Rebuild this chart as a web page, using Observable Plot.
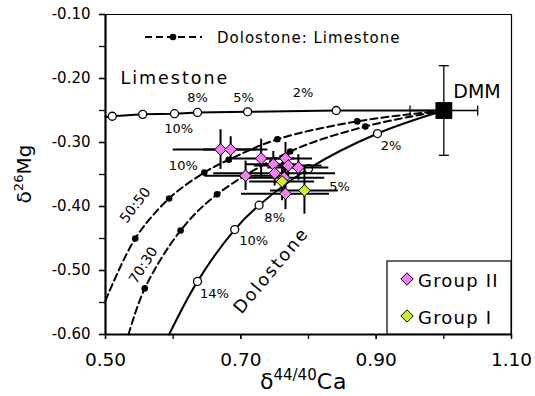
<!DOCTYPE html>
<html><head><meta charset="utf-8">
<script src="https://cdn.jsdelivr.net/npm/d3@7"></script>
<script src="https://cdn.jsdelivr.net/npm/@observablehq/plot@0.6"></script>
<style>
body{margin:0;background:#fff;}
#chart svg{font-family:"DejaVu Sans",sans-serif;}
</style></head><body><div id="chart"></div>
<script>
// ---------- data ----------
const xDomain = [0.5, 1.1];
const yDomain = [-0.6, -0.1];
const xTicksAll = [0.5, 0.6, 0.7, 0.8, 0.9, 1.0, 1.1];
const xTickLabels = [0.5, 0.7, 0.9, 1.1];
const yTicksAll = [-0.6, -0.55, -0.5, -0.45, -0.4, -0.35, -0.3, -0.25, -0.2, -0.15, -0.1];
const yTickLabels = [-0.6, -0.5, -0.4, -0.3, -0.2, -0.1];

// DMM end-member
const dmmX = [1.0], dmmY = [-0.25], dmmXerr = [0.05], dmmYerr = [0.07];

// Limestone mixing curve (open circles)
const limeX = [0.510, 0.555, 0.602, 0.636, 0.710, 0.841];
const limeY = [-0.259, -0.256, -0.255, -0.253, -0.252, -0.250];
const limeStart = [0.50, -0.260];

// Dolostone mixing curve (open circles)
const doloX = [0.636, 0.691, 0.727, 0.800, 0.902];
const doloY = [-0.517, -0.436, -0.398, -0.341, -0.286];
const doloStart = [0.594, -0.60];

// Dolostone:Limestone 50:50 (filled dots)
const mix50X = [0.544, 0.594, 0.646, 0.682, 0.754, 0.872];
const mix50Y = [-0.450, -0.3875, -0.347, -0.327, -0.295, -0.267];
const mix50Start = [0.50, -0.547];

// Dolostone:Limestone 70:30 (filled dots)
const mix70X = [0.558, 0.611, 0.665, 0.773, 0.884];
const mix70Y = [-0.528, -0.4375, -0.381, -0.314, -0.275];
const mix70Start = [0.534, -0.60];

// Group II samples
const g2X    = [0.670, 0.685, 0.730, 0.707, 0.748, 0.766, 0.770, 0.785, 0.750, 0.764, 0.766];
const g2Y    = [-0.311, -0.311, -0.325, -0.352, -0.334, -0.325, -0.336, -0.339, -0.348, -0.355, -0.380];
const g2Xerr = [0.070, 0.040, 0.050, 0.060, 0.040, 0.040, 0.050, 0.045, 0.090, 0.060, 0.065];
const g2Yerr = [0.031, 0.020, 0.030, 0.023, 0.020, 0.025, 0.020, 0.020, 0.020, 0.030, 0.025];
// Group I samples
const g1X    = [0.761, 0.794];
const g1Y    = [-0.361, -0.375];
const g1Xerr = [0.048, 0.050];
const g1Yerr = [0.030, 0.037];

// annotation labels (anchored in data units)
const pctLabels = ["8%", "5%", "2%", "10%", "2%", "5%", "8%", "10%", "14%", "10%"];
const pctX      = [0.636, 0.704, 0.792, 0.608, 0.922, 0.846, 0.750, 0.719, 0.661, 0.615];
const pctY      = [-0.230, -0.230, -0.222, -0.278, -0.305, -0.369, -0.417, -0.453, -0.536, -0.336];
const ratioLabels = ["50:50", "70:30"];
const ratioX = [0.544, 0.556];
const ratioY = [-0.398, -0.492];
const ratioAngle = [-52, -57];

const colors = {g2: "#f57ef2", g1: "#ccf028"};

// ---------- helpers ----------
const pts = (xs, ys) => xs.map((x, i) => ({x, y: ys[i]}));
const limeLine = [{x: limeStart[0], y: limeStart[1]}, ...pts(limeX, limeY), {x: dmmX[0], y: dmmY[0]}];
const doloLine = [{x: doloStart[0], y: doloStart[1]}, ...pts(doloX, doloY), {x: dmmX[0], y: dmmY[0]}];
const mix50Line = [{x: mix50Start[0], y: mix50Start[1]}, ...pts(mix50X, mix50Y), {x: dmmX[0], y: dmmY[0]}];
const mix70Line = [{x: mix70Start[0], y: mix70Start[1]}, ...pts(mix70X, mix70Y), {x: dmmX[0], y: dmmY[0]}];
const samples = [
  ...g2X.map((x, i) => ({x, y: g2Y[i], xe: g2Xerr[i], ye: g2Yerr[i], g: "II"})),
  ...g1X.map((x, i) => ({x, y: g1Y[i], xe: g1Xerr[i], ye: g1Yerr[i], g: "I"}))
];
const dmm = dmmX.map((x, i) => ({x, y: dmmY[i], xe: dmmXerr[i], ye: dmmYerr[i]}));
const pct = pctLabels.map((t, i) => ({t, x: pctX[i], y: pctY[i]}));
const ratios = ratioLabels.map((t, i) => ({t, x: ratioX[i], y: ratioY[i], a: ratioAngle[i]}));

const capH = {draw(ctx, size) { const r = Math.sqrt(size / Math.PI); ctx.moveTo(-r, 0); ctx.lineTo(r, 0); }};
const capV = {draw(ctx, size) { const r = Math.sqrt(size / Math.PI); ctx.moveTo(0, -r); ctx.lineTo(0, r); }};

const fmt = d => d.toFixed(2);

const plot = Plot.plot({
  width: 535, height: 396,
  marginLeft: 105, marginRight: 24, marginTop: 14, marginBottom: 62,
  x: {domain: xDomain, label: null},
  y: {domain: yDomain, label: null},
  style: {fontFamily: "DejaVu Sans", background: "white", color: "black"},
  marks: [
    Plot.ruleX([xDomain[1]], {stroke: "black", strokeWidth: 1.2}),
    Plot.ruleY([yDomain[1]], {stroke: "black", strokeWidth: 1.2}),
    Plot.axisX(xTicksAll, {tickSize: 5, text: null, strokeWidth: 1.3, label: null}),
    Plot.axisX(xTickLabels, {tickSize: 5, tickPadding: 13, tickFormat: fmt, fontSize: 18.5, strokeWidth: 1.3, label: null}),
    Plot.axisY(yTicksAll, {tickSize: 6, text: null, strokeWidth: 1.3, label: null}),
    Plot.axisY(yTickLabels, {tickSize: 6, tickPadding: 9, tickFormat: fmt, fontSize: 15, strokeWidth: 1.3, label: null}),
    Plot.ruleX([xDomain[0]], {strokeWidth: 2.2}),
    Plot.ruleY([yDomain[0]], {strokeWidth: 2.2}),

    // mixing curves
    Plot.line(limeLine, {x: "x", y: "y", stroke: "black", strokeWidth: 2}),
    Plot.line(doloLine, {x: "x", y: "y", stroke: "black", strokeWidth: 2, curve: "catmull-rom"}),
    Plot.line(mix50Line, {x: "x", y: "y", stroke: "black", strokeWidth: 2, strokeDasharray: "7,4", curve: "catmull-rom"}),
    Plot.line(mix70Line, {x: "x", y: "y", stroke: "black", strokeWidth: 2, strokeDasharray: "7,4", curve: "catmull-rom"}),

    // DMM error bars
    Plot.ruleY(dmm, {y: "y", x1: d => d.x - d.xe, x2: d => d.x + d.xe, strokeWidth: 1.3}),
    Plot.ruleX(dmm, {x: "x", y1: d => d.y - d.ye, y2: d => d.y + d.ye, strokeWidth: 1.3}),
    Plot.dot(dmm, {x: "x", y: d => d.y + d.ye, symbol: capH, r: 5, fill: "none", stroke: "black", strokeWidth: 1.3}),
    Plot.dot(dmm, {x: "x", y: d => d.y - d.ye, symbol: capH, r: 5, fill: "none", stroke: "black", strokeWidth: 1.3}),
    Plot.dot(dmm, {x: d => d.x - d.xe, y: "y", symbol: capV, r: 5, fill: "none", stroke: "black", strokeWidth: 1.3}),
    Plot.dot(dmm, {x: d => d.x + d.xe, y: "y", symbol: capV, r: 5, fill: "none", stroke: "black", strokeWidth: 1.3}),

    // markers on curves
    Plot.dot(pts(mix50X, mix50Y), {x: "x", y: "y", r: 3.3, fill: "black"}),
    Plot.dot(pts(mix70X, mix70Y), {x: "x", y: "y", r: 3.3, fill: "black"}),
    Plot.dot(pts(limeX, limeY), {x: "x", y: "y", r: 4, fill: "white", stroke: "black", strokeWidth: 1.3}),
    Plot.dot(pts(doloX, doloY), {x: "x", y: "y", r: 4, fill: "white", stroke: "black", strokeWidth: 1.3}),

    // sample error bars
    Plot.ruleY(samples, {y: "y", x1: d => d.x - d.xe, x2: d => d.x + d.xe, strokeWidth: 2}),
    Plot.ruleX(samples, {x: "x", y1: d => d.y - d.ye, y2: d => d.y + d.ye, strokeWidth: 2}),
    // sample points
    Plot.dot(samples, {x: "x", y: "y", symbol: "diamond2", r: 5.3, fill: d => d.g === "II" ? colors.g2 : colors.g1, stroke: "black", strokeWidth: 1}),

    // DMM square
    Plot.dot(dmm, {x: "x", y: "y", symbol: "square", r: 9.5, fill: "black"}),

    // labels
    Plot.text(pct, {x: "x", y: "y", text: "t", fontSize: 13}),
    Plot.text(ratios, {x: "x", y: "y", text: "t", rotate: "a", fontSize: 14}),
    Plot.text(["Limestone"], {x: 0.522, y: -0.209, text: d => d, textAnchor: "start", lineAnchor: "bottom", fontSize: 17.5}),
    Plot.text(["Dolostone"], {x: 0.745, y: -0.500, text: d => d, rotate: -50, fontSize: 17.5}),
    Plot.text(["DMM"], {x: 1.014, y: -0.2297, text: d => d, textAnchor: "start", lineAnchor: "bottom", fontSize: 19})
  ]
});

document.getElementById("chart").appendChild(plot);

// letter-spacing tweaks for wide label face
const svg = d3.select(plot);
svg.selectAll("text").each(function() {
  const t = this.textContent;
  if (t === "Limestone" || t === "Dolostone") this.style.letterSpacing = "2px";
});

// ---------- legends & axis titles ----------
const X = plot.scale("x"), Y = plot.scale("y");
const L = X.apply(xDomain[0]), R = X.apply(xDomain[1]);
const T = Y.apply(yDomain[1]), B = Y.apply(yDomain[0]);

// top legend: Dolostone:Limestone
const lg = svg.append("g");
lg.append("line").attr("x1", L + 40).attr("x2", L + 97).attr("y1", T + 23).attr("y2", T + 23)
  .attr("stroke", "black").attr("stroke-width", 2).attr("stroke-dasharray", "7,4");
lg.append("circle").attr("cx", L + 68).attr("cy", T + 23).attr("r", 3.3).attr("fill", "black");
lg.append("text").attr("x", L + 112).attr("y", T + 28.5).attr("font-size", 15).attr("text-anchor", "start")
  .style("letter-spacing", "1px").text("Dolostone: Limestone");

// group legend box
const gb = svg.append("g");
gb.append("rect").attr("x", R - 124).attr("y", B - 73).attr("width", 124).attr("height", 73)
  .attr("fill", "white").attr("stroke", "black").attr("stroke-width", 1.2);
const items = [{t: "Group II", c: colors.g2}, {t: "Group I", c: colors.g1}];
items.forEach((it, i) => {
  const cy = B - 55 + i * 37, cx = R - 104;
  const h = 6.2;
  gb.append("path").attr("d", `M${cx},${cy - h}L${cx + h},${cy}L${cx},${cy + h}L${cx - h},${cy}Z`)
    .attr("fill", it.c).attr("stroke", "black").attr("stroke-width", 1);
  gb.append("text").attr("x", cx + 11).attr("y", cy + 7.5).attr("font-size", 18).attr("text-anchor", "start")
    .style("letter-spacing", "1.2px").text(it.t);
});

// axis titles with superscripts
const xt = svg.append("text").attr("x", 260).attr("y", 389).attr("font-size", 22).attr("text-anchor", "start");
xt.append("tspan").text("δ");
xt.append("tspan").attr("font-size", 15).attr("dy", -9).text("44/40");
xt.append("tspan").attr("dy", 9).style("letter-spacing", "1px").text("Ca");

const yt = svg.append("text").attr("transform", "translate(31,174) rotate(-90)")
  .attr("text-anchor", "middle").attr("font-size", 20);
yt.append("tspan").text("δ");
yt.append("tspan").attr("font-size", 13).attr("dy", -8).text("26");
yt.append("tspan").attr("dy", 8).text("Mg");
</script></body></html>
